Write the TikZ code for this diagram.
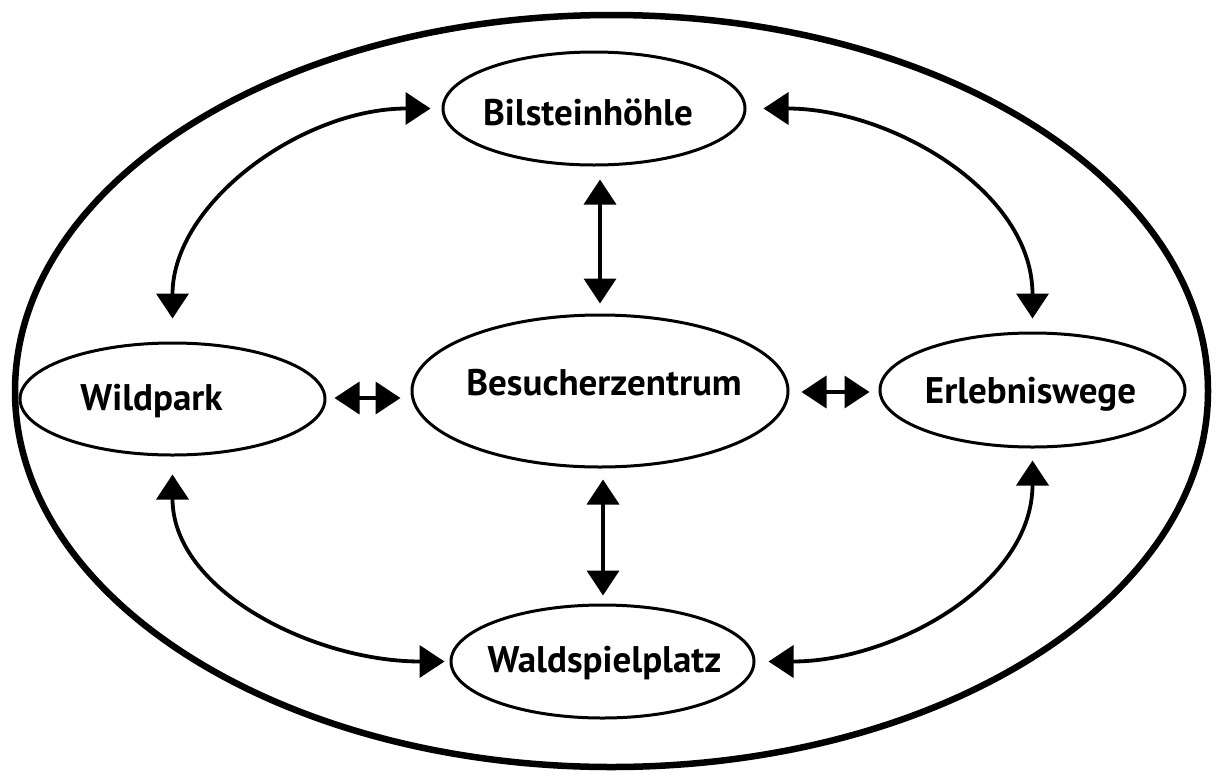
\documentclass[tikz,border=0pt]{standalone}
\usepackage{fontspec}
\setmainfont{PT Sans}
\usetikzlibrary{shapes.geometric,arrows.meta}
\newcommand{\ctext}[2][0pt]{\makebox[0pt]{\kern#1#2}}
\begin{document}
\begin{tikzpicture}[x=1pt,y=-1pt,
  place/.style={ellipse,draw=black,line width=3pt,inner sep=0pt,align=center,
    font=\fontsize{37}{40}\selectfont\bfseries,text depth=0pt},
  arr/.style={line width=3.8pt,{Triangle[length=25pt,width=32pt]}-{Triangle[length=25pt,width=32pt]}}
]
\useasboundingbox (0,0) rectangle (1220,774);
\node[ellipse,draw=black,line width=6.5pt,minimum width=1193pt,minimum height=752pt,inner sep=0pt] (outer) at (611.5,391) {};
\node[place,minimum width=302pt,minimum height=113pt,text height=33pt] (bil) at (594,108.5) {\ctext[-12pt]{Bilsteinhöhle}};
\node[place,minimum width=376pt,minimum height=152pt,text height=8pt] (bes) at (600,391) {\ctext[8pt]{Besucherzentrum}};
\node[place,minimum width=305pt,minimum height=112pt,text height=22pt] (wild) at (172.5,399) {\ctext[-42pt]{Wildpark}};
\node[place,minimum width=305pt,minimum height=114pt,text height=26pt] (erl) at (1032.5,390) {\ctext[-4pt]{Erlebniswege}};
\node[place,minimum width=303pt,minimum height=113pt,text height=22pt] (wald) at (602.5,661.5) {\ctext[4pt]{Waldspielplatz}};
% straight arrows
\draw[arr,shorten <=13pt,shorten >=10pt] (bil.south -| 600,0) -- (bes.north -| 600,0);
\draw[arr,shorten <=11pt,shorten >=8pt] (bes.south -| 603,0) -- (wald.north -| 603,0);
\draw[arr,shorten <=8pt,shorten >=10pt] (wild.east |- 0,398) -- (bes.west |- 0,398);
\draw[arr,shorten <=12pt,shorten >=9pt] (bes.east |- 0,392) -- (erl.west |- 0,392);
% curved arrows
\draw[arr,shorten <=23pt,shorten >=11pt] (wild.north) to[out=90,in=180] (bil.west);
\draw[arr,shorten <=17pt,shorten >=13pt] (bil.east) to[out=0,in=90] (erl.north);
\draw[arr,shorten <=18pt,shorten >=5pt] (wild.south) to[out=-90,in=180] (wald.west);
\draw[arr,shorten <=13pt,shorten >=12pt] (wald.east) to[out=0,in=-90] (erl.south);
\end{tikzpicture}
\end{document}
